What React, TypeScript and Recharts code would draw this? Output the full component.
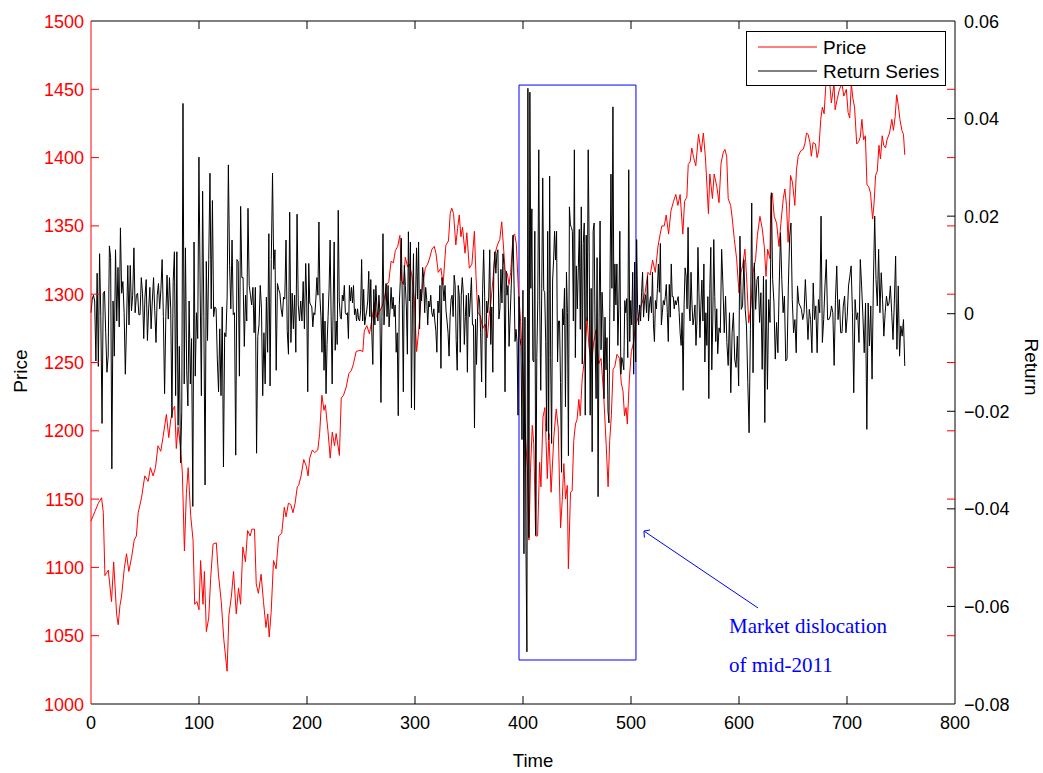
import React from 'react';
import { LineChart, Line, XAxis, YAxis, ReferenceArea, ReferenceLine } from 'recharts';

// price (time, price)
const priceTime = [
  0, 3.7, 6.8, 9.8, 11.4, 12.9, 16, 19, 21, 23.7, 25.2, 26.8, 28.3, 30.8, 32.9, 35, 37.5, 40, 42, 43.7,
  46.8, 49.8, 52.9, 55, 57.5, 59.7, 62, 64.6, 66.8, 69.8, 72, 73.8, 76, 77.5, 79, 80.6, 82.8, 84.6, 86.5, 88.3,
  90, 92.3, 94.5, 96, 98, 100, 101.5, 103.7, 105, 106.8, 109, 110.8, 113, 116, 118, 120.6, 123, 126, 127.7, 130,
  132, 134.5, 136.6, 138.5, 140.6, 143, 145, 147.4, 149, 151.4, 153, 155, 157.5, 159.7, 162, 163.7, 165, 166.8, 169, 171.4,
  173.8, 176.6, 179, 180.6, 182.8, 185, 187, 189, 191, 192.3, 194.5, 197,
  199.4, 201, 202.5, 205, 207, 210, 211.7, 213.8, 215.7, 217, 219.4, 221.5, 223.4, 225.5, 227, 230, 231.7, 233.8, 236.3, 238.8,
  241, 243, 245.5, 249, 251.7, 253, 255.4, 257.8, 260, 262.5, 264.6, 267, 269.5, 271.7, 273.8, 275.7, 277.8, 280, 281.8, 284,
  286, 287.7, 289.2, 291, 293.2, 294.8, 297, 299.4, 301.5, 303.4, 305.5, 307, 309.5, 311.7, 313.8, 315.7, 317.8, 319.4, 321.5, 324,
  326, 328.6, 331, 332.6, 334, 335.7, 337.8, 339.4, 341, 342.5, 344, 346.3, 348, 350.3, 352.7, 355, 356.5, 358, 360.6, 362.7,
  365, 367, 368.6, 370.2, 372.4, 374.2, 376.3, 378.5, 380.3,
  383.4, 385.5, 387, 388.6, 390.8, 392.3, 393.8, 395.7, 397.8, 400, 401.8, 404, 405.5, 407, 408.6, 410, 411.7, 413.5, 415.4, 416.6,
  418.5, 420.3, 422.5, 424, 426, 428.6, 430.8, 432.6, 434.8, 436.3, 437.8, 439.4, 441, 442, 444, 445.5, 447, 448.6, 450, 451.7,
  453, 454.8, 457, 459.4, 461, 463.4, 465.5, 467.7, 470, 472.3, 474.8, 477, 478.8, 480.3, 481.8, 483.4, 485, 487, 489.4, 491,
  492.6, 494, 495.4, 496.6, 498.5, 500.3, 502.5, 504, 506.6, 508.6, 510.8, 513, 515.7, 517.8, 520, 522.5, 525, 527, 528.6, 530.8,
  532.6, 534.8, 537, 539.4, 541.5, 543.4, 545.5, 548, 549.6, 551.7, 553, 554.8, 556.3, 558, 560,
  562.5, 565, 567, 569, 571.7, 573, 575.4, 577, 579.4, 581.5, 583.4, 585.5, 587, 588.6, 590, 592.3, 593.8, 595.7, 597.8, 600,
  601.8, 603.4, 605.5, 607, 609, 611, 613, 615.4, 617, 619.4, 621.5, 623.4, 625, 626.5, 628.6, 629.5, 630.8, 632.6, 634.8, 637,
  638.8, 641, 642.5, 644, 645.5, 647.7, 649.5, 651.7, 653.2, 654.8, 657.2, 659.4, 661, 662.5, 664, 665.7, 667, 668.6, 670.8, 672.3,
  673.8, 675.7, 677.2, 678.8, 680.3, 681.8, 684, 685.5, 688, 689, 691, 693, 695.4, 697, 699.4, 701, 702.5, 704, 705.5, 707,
  709, 711, 712.3, 713.8, 715.4, 717, 718.5, 720, 721.8, 723.7, 725, 726.5, 728, 729.6, 731, 732.6, 734, 735.7, 737, 739.4,
  741.5, 743, 744.6, 746, 747.7, 749, 750.8, 752.3, 753.5,
];

const priceValue = [
  1134, 1141, 1147, 1151, 1140, 1094, 1098, 1075, 1104, 1066, 1058, 1072, 1079, 1099, 1110, 1097, 1107, 1120, 1123, 1140,
  1151, 1167, 1163, 1173, 1167, 1173, 1189, 1185, 1196, 1212, 1195, 1208, 1216, 1218, 1187, 1203, 1189, 1169, 1112, 1154,
  1173, 1138, 1120, 1073, 1075, 1069, 1105, 1073, 1097, 1053, 1063, 1092, 1117, 1118, 1095, 1075, 1047, 1024, 1065, 1079,
  1097, 1066, 1085, 1073, 1115, 1104, 1127, 1123, 1128, 1128, 1088, 1081, 1095, 1075, 1056, 1066, 1049, 1067, 1105, 1099,
  1123, 1125, 1144, 1137, 1147, 1146, 1140, 1147, 1159, 1160, 1167, 1179,
  1174, 1167, 1180, 1186, 1184, 1186, 1198, 1226, 1215, 1219, 1200, 1180, 1199, 1189, 1198, 1182, 1224, 1226, 1232, 1242,
  1244, 1249, 1258, 1259, 1258, 1273, 1277, 1271, 1281, 1294, 1283, 1287, 1291, 1297, 1307, 1309, 1324, 1323, 1332, 1335,
  1343, 1310, 1307, 1327, 1320, 1322, 1314, 1296, 1258, 1273, 1296, 1306, 1319, 1322, 1327, 1333, 1335, 1330, 1316, 1319,
  1307, 1336, 1339, 1359, 1363, 1359, 1336, 1348, 1358, 1342, 1349, 1330, 1345, 1319, 1322, 1346, 1313, 1287, 1284, 1275,
  1278, 1268, 1284, 1293, 1313, 1330, 1336, 1340, 1353,
  1318, 1315, 1307, 1316, 1343, 1344, 1337, 1304, 1280, 1245, 1202, 1173, 1120, 1173, 1204, 1190, 1123, 1123, 1177, 1159,
  1210, 1217, 1165, 1198, 1155, 1196, 1216, 1202, 1129, 1149, 1176, 1150, 1160, 1099, 1155, 1156, 1193, 1205, 1208, 1223,
  1211, 1238, 1253, 1283, 1262, 1250, 1265, 1274, 1249, 1253, 1225, 1190, 1159, 1193, 1211, 1245, 1247, 1256, 1253, 1235,
  1229, 1211, 1217, 1205, 1238, 1258, 1265, 1277, 1283, 1290, 1295, 1301, 1316, 1314, 1325, 1316, 1335, 1344, 1350, 1350,
  1358, 1344, 1361, 1368, 1373, 1365, 1373, 1344, 1368, 1371, 1395, 1397, 1407, 1400, 1394,
  1417, 1404, 1418, 1399, 1359, 1388, 1370, 1388, 1379, 1367, 1396, 1404, 1406, 1401, 1370, 1365, 1355, 1340, 1326, 1301,
  1316, 1321, 1333, 1313, 1279, 1291, 1316, 1326, 1343, 1357, 1348, 1335, 1313, 1333, 1326, 1372, 1374, 1357, 1352, 1335,
  1352, 1370, 1377, 1365, 1338, 1387, 1382, 1365, 1391, 1401, 1405, 1406, 1410, 1418, 1417, 1411, 1401, 1411, 1410, 1400,
  1405, 1428, 1437, 1432, 1452, 1465, 1455, 1440, 1454, 1435, 1443, 1450, 1454, 1445, 1450, 1433, 1429, 1454, 1443, 1437,
  1410, 1412, 1415, 1428, 1413, 1416, 1380, 1379, 1374, 1355, 1366, 1387, 1390, 1409, 1399, 1416, 1409, 1407, 1413, 1418,
  1428, 1420, 1430, 1446, 1437, 1428, 1420, 1417, 1402,
];

const returnSpans = [[0, 197.6], [198.8, 387.1], [390.8, 580.3], [581.5, 753.5]];

const returnsA = [
  0.0002, 0.003, 0.0038, 0.0026, -0.0097, 0.0083, -0.0108, 0.0123, -0.0006, -0.0225,
  0.0042, 0.0046, -0.0039, -0.012, -0.0087, 0.0139, 0.0115, -0.0318, 0.0026, -0.0087,
  0.0131, -0.0015, 0.0095, -0.0027, 0.0176, 0.0042, 0.0066, 0.0002, -0.0124, -0.0019,
  0.0099, -0.0023, 0.0099, 0.0006, 0.0038, 0.0135, 0.0002, 0.0038, 0.0042, -0.0002,
  -0.0002, 0.0074, 0.0042, -0.0051, 0.0034, 0.007, -0.0055, 0.001, 0.0054, -0.0031,
  0.0026, 0.0074, 0.0006, -0.0059, 0.0038, 0.0062, 0.001, 0.005, 0.0111, -0.0006,
  -0.0164, -0.0006, 0.0079, -0.0011, 0.0074, 0.001, -0.0213, 0.0066, 0.0127, -0.0168,
  0.0127, -0.0229, -0.0067, -0.0306, -0.0201, 0.0431, -0.0144, 0.0135, -0.0116, -0.0189,
  0.0026, -0.0144, -0.0051, -0.0395, 0.0147, -0.0128, 0.0002, -0.0051, 0.0321, 0.005,
  -0.0168, 0.0251, -0.0006, -0.0351, 0.0107, -0.0055, 0.0111, 0.0288, 0.001, 0.0232,
  -0.0006, 0.0014, 0.001, -0.0093, -0.016, -0.0031, -0.0168, 0.0014, -0.0314, -0.0039,
  -0.0047, 0.0034, 0.0305, 0.0099, 0.001, 0.0151, -0.0002, 0.0002, -0.029, 0.0111,
  0.0107, -0.0128, 0.022, 0.0074, 0.0074, -0.0067, 0.0038, -0.0015, 0.0216, 0.0058,
  0.0038, 0.0018, 0.0054, -0.0039, 0.0054, -0.0286, -0.0047, -0.0023, 0.0058, 0.001,
  -0.0168, -0.0039, -0.0144, 0.0034, -0.0079, 0.0164, -0.0148, 0.0111, 0.0288, 0.0091,
  0.0131, -0.0116, 0.0062, 0.005, 0.0042, 0.001, -0.0006, 0.0034, 0.003, 0.0151,
  -0.0035, -0.0083, 0.0208, -0.0059, 0.0042, -0.0031, 0.0038, -0.0079, 0.0204, 0.0018,
  -0.0015, 0.0026, -0.0015, 0.0066, -0.0031,
];

const returnsB = [
  0.0103, 0.0026, -0.016, 0.0103, 0.0022, 0.0018, 0.0014, -0.0027, 0.0002, -0.0002,
  0.003, 0.0074, 0.0038, 0.0188, 0.0034, -0.0006, -0.0079, 0.0042, -0.0116, -0.0015,
  -0.0164, -0.0063, -0.0006, 0.005, 0.0151, -0.0006, -0.0144, 0.0018, 0.0147, -0.0075,
  -0.0015, -0.0063, 0.0212, 0.0026, -0.0006, -0.0011, 0.0038, 0.0026, 0.0058, 0.0002,
  -0.0002, 0.0002, -0.0051, 0.0058, 0.0026, 0.0054, 0.0022, 0.0058, -0.0002, 0.001,
  -0.0015, 0.001, -0.0011, -0.0015, 0.0006, 0.0111, -0.0015, 0.005, -0.0023, -0.0006,
  0.0006, 0.0026, 0.0087, -0.0006, 0.007, -0.0039, -0.0104, 0.005, -0.0023, 0.0058,
  0.0014, -0.0015, 0.0038, 0.0002, -0.0182, -0.0006, 0.0164, -0.0023, 0.0026, 0.0062,
  -0.0006, 0.0058, -0.0027, 0.001, 0.0054, 0.001, 0.0034, -0.0006, 0.0018, -0.0079,
  -0.0039, -0.0209, 0.0018, 0.0066, 0.0155, 0.0026, -0.016, 0.0099, 0.0058, 0.0014,
  -0.0083, 0.0168, 0.0026, 0.0147, -0.0193, 0.0018, 0.0123, -0.0197, 0.0026, 0.0135,
  0.003, 0.0147, -0.0031, 0.005, 0.0026, 0.0095, 0.0074, 0.0002, 0.0054, 0.003,
  -0.0023, 0.0026, 0.0014, 0.0038, 0.0002, -0.0006, 0.001, -0.0015, -0.0035, -0.0079,
  0.0026, 0.0002, 0.0058, -0.0112, 0.0074, 0.0058, 0.0026, 0.0058, 0.0006, -0.0015,
  -0.0039, -0.0087, -0.0006, 0.003, 0.0038, -0.0006, 0.0079, 0.0058, -0.0055, -0.0116,
  0.0058, 0.0038, -0.0079, 0.0038, 0.0074, 0.0042, -0.0063, -0.0006, 0.0038, -0.012,
  0.0042, -0.0006, 0.0034, 0.0074, -0.0023, -0.0023, -0.0234, -0.0011, -0.0104, -0.0006,
  0.0038, 0.0026, -0.0039, -0.014, 0.005, 0.0131, 0.0034, -0.0172, 0.0026, 0.0002,
  0.0034, 0.0131, -0.0063, 0.0014, -0.012, 0.0091, 0.0127, 0.0083, 0.0123, 0.0131,
  -0.0011, 0.001, 0.0091, 0.0022, 0.0123, 0.0099, -0.016, 0.0087, 0.0038, 0.0058,
  -0.0067,
];

const returnsC = [
  0.0161, 0.006, -0.0057, -0.0032, -0.0057, -0.0208, 0.0035, -0.0049, -0.0067, -0.0258,
  0.0048, -0.0492, -0.0007, -0.0467, -0.0693, 0.0462, -0.0459, 0.0454, 0.0052, 0.0215,
  -0.0095, -0.0099, 0.0169, -0.0454, -0.009, 0.0027, 0.0336, 0.0018, -0.0157, 0.0052,
  0.0278, 0.0048, 0.0044, -0.0057, -0.0241, 0.0169, -0.0258, 0.0282, -0.009, -0.0266,
  0.0069, 0.011, 0.0169, 0.011, 0.0169, -0.0099, -0.0015, -0.0015, -0.0141, -0.0325,
  0.001, -0.0023, 0.0052, -0.0191, 0.0085, 0.0002, -0.0291, 0.0219, 0.0182, 0.0177,
  0.0169, -0.0015, 0.0336, -0.009, 0.0098, 0.001, 0.0094, 0.0173, -0.0032, 0.0219,
  -0.0103, 0.0144, 0.0186, -0.0208, 0.0161, -0.0015, 0.0336, 0.0127, -0.0208, 0.0052,
  -0.0283, 0.0169, 0.0186, -0.0057, -0.0174, 0.0115, -0.0375, -0.0007, 0.019, -0.0074,
  0.0044, -0.0015, -0.0174, -0.0007, -0.0115, -0.0049, -0.0199, -0.0224, 0.0052, 0.0286,
  0.0052, 0.0424, -0.0015, 0.0102, 0.0018, 0.0102, -0.0065, 0.0018, 0.0169, -0.0124,
  -0.009, -0.0099, -0.0115, 0.0027, 0.0002, 0.0031, -0.009, 0.0295, -0.0057, 0.0027,
  -0.0023, 0.0085, -0.0124, 0.0106, -0.0099, 0.0152, 0.001, -0.0023, 0.0018, -0.0015,
  0.0044, 0.0085, -0.0007, 0.0027, 0.0039, 0.0002, 0.0077, -0.0015, 0.0018, 0.0035,
  0.0002, 0.0085, -0.0023, -0.0057, 0.0027, 0.001, 0.0052, 0.0102, 0.0044, 0.0144,
  -0.0023, 0.0002, 0.0027, 0.0018, 0.0035, 0.006, 0.0002, -0.0057, 0.006, -0.0007,
  0.0102, 0.0035, 0.0035, 0.001, 0.0027, 0.0018, 0.0027, 0.0035, 0.0002, -0.004,
  -0.0065, 0.0002, -0.0157, 0.0018, 0.0094, 0.0077, 0.001, 0.0177, 0.0018, -0.0015,
  0.0085, 0.0018, -0.0023, -0.0007, 0.0018, -0.0065, -0.0015, 0.0136, 0.0044, -0.0049,
  0.0018, 0.0069, -0.0015, 0.0102, -0.0099, 0.0002, -0.0065, 0.0035, -0.0174, 0.0052,
  0.0136, -0.0115, -0.0015, 0.0152, 0.0035, -0.0057, 0.001, -0.0082,
];

const returnsD = [
  -0.0029, -0.0039, 0.0132, 0.0057, -0.0039, 0.0036, -0.0059, -0.0106, 0.0002, -0.0162,
  -0.0039, 0.0002, -0.0093, -0.011, -0.0046, -0.0148, 0.0159, 0.0009, 0.0016, 0.0111,
  0.0009, -0.0025, -0.0141, -0.0244, -0.0032, 0.0227, -0.0121, 0.0104, 0.0009, 0.007,
  0.0077, -0.0018, 0.0043, -0.0114, 0.0077, -0.0223, 0.007, -0.0155, 0.0029, -0.0018,
  0.0248, 0.007, 0.0022, -0.0093, -0.0018, -0.008, 0.0057, 0.0166, 0.007, 0.0002,
  0.0036, -0.0097, -0.0093, 0.0057, 0.0159, 0.0186, 0.0029, -0.0039, -0.0012, -0.008,
  0.0057, 0.0022, 0.0016, 0.0009, -0.0012, 0.0002, 0.007, 0.0009, -0.0053, 0.0009,
  -0.0012, -0.008, 0.0063, -0.0012, 0.0016, -0.008, 0.0029, 0.0002, 0.02, -0.0059,
  -0.0012, 0.0057, 0.0111, -0.0012, -0.0012, -0.0005, 0.0016, 0.0002, -0.0106, 0.0029,
  0.0098, -0.0012, 0.0029, -0.0039, -0.0039, 0.0016, 0.0036, -0.0039, -0.0005, 0.0057,
  0.0077, 0.0098, 0.0002, -0.0162, 0.0029, -0.0012, 0.0002, -0.0059, 0.0111, 0.0057,
  -0.0005, -0.008, 0.0022, -0.0237, 0.0022, -0.0066, 0.0016, -0.0134, 0.0063, 0.02,
  0.007, 0.0016, 0.0132, 0.0002, 0.0084, 0.0029, -0.0046, 0.0002, 0.0036, 0.0016,
  0.0022, 0.0057, 0.0002, -0.0053, 0.0022, 0.0118, -0.0073, 0.0057, -0.0087, -0.0025,
  -0.0046, -0.0012, -0.0107,
];

const timeTicks = [0, 100, 200, 300, 400, 500, 600, 700, 800];
const priceTicks = [1000, 1050, 1100, 1150, 1200, 1250, 1300, 1350, 1400, 1450, 1500];
const returnTicks = [-0.08, -0.06, -0.04, -0.02, 0, 0.02, 0.04, 0.06];

const priceData = priceTime.map((t, i) => ({ t, price: priceValue[i] }));
const returnData = [returnsA, returnsB, returnsC, returnsD].flatMap((vals, s) => {
  const [t0, t1] = returnSpans[s];
  const step = (t1 - t0) / (vals.length - 1);
  return vals.map((r, i) => ({ t: t0 + i * step, ret: r }));
});

const SANS = '"Liberation Sans", Arial, Helvetica, sans-serif';
const SERIF = '"Liberation Serif", "Times New Roman", serif';
const RED = '#ff0000';
const BLUE = '#0000ff';

// plot box edges
const L = 91;
const R = 955;
const T = 21;
const B = 704;

const XTick = (props: any) => {
  const { x, payload } = props;
  const v = payload.value;
  const inner = v > 0 && v < 800;
  return (
    <g>
      {inner && <line x1={x} x2={x} y1={B} y2={B - 8} stroke="#000" />}
      {inner && <line x1={x} x2={x} y1={T} y2={T + 8} stroke="#000" />}
      <text x={x} y={729} textAnchor="middle" fontSize={18} fontFamily={SANS} fill="#000">{v}</text>
    </g>
  );
};

const LeftTick = (props: any) => {
  const { y, payload } = props;
  const v = payload.value;
  const inner = v > 1000 && v < 1500;
  return (
    <g>
      {inner && <line x1={L} x2={L + 8} y1={y} y2={y} stroke={RED} />}
      {inner && <line x1={R} x2={R - 8} y1={y} y2={y} stroke={RED} />}
      <text x={84} y={y + 6.5} textAnchor="end" fontSize={18} fontFamily={SANS} fill={RED}>{v}</text>
    </g>
  );
};

const fmtReturn = (v: number) => {
  if (Math.abs(v) < 1e-9) return '0';
  const s = Math.abs(v).toFixed(2);
  return v < 0 ? '\u2212' + s : s;
};

const RightTick = (props: any) => {
  const { y, payload } = props;
  const v = payload.value;
  const inner = v > -0.079 && v < 0.059;
  return (
    <g>
      {inner && <line x1={R} x2={R - 8} y1={y} y2={y} stroke="#000" />}
      <text x={964} y={y + 6.5} textAnchor="start" fontSize={18} fontFamily={SANS} fill="#000">{fmtReturn(v)}</text>
    </g>
  );
};

export default function App() {
  return (
    <div style={{ position: 'absolute', left: 0, top: 0, width: 1043, height: 773, background: '#fff' }}>
      <LineChart width={1043} height={773} margin={{ top: T, right: 0, bottom: 0, left: 0 }}>
        <XAxis
          dataKey="t"
          type="number"
          domain={[0, 800]}
          ticks={timeTicks}
          interval={0}
          height={69}
          tickLine={false}
          axisLine={{ stroke: '#000' }}
          tick={<XTick />}
        />
        <YAxis
          yAxisId="left"
          domain={[1000, 1500]}
          ticks={priceTicks}
          interval={0}
          width={L}
          tickLine={false}
          axisLine={{ stroke: RED }}
          tick={<LeftTick />}
        />
        <YAxis
          yAxisId="right"
          orientation="right"
          domain={[-0.08, 0.06]}
          ticks={returnTicks}
          interval={0}
          width={1043 - R}
          tickLine={false}
          axisLine={{ stroke: '#000' }}
          tick={<RightTick />}
        />
        <ReferenceLine yAxisId="left" y={1500} stroke="#000" />
        <Line
          yAxisId="left"
          data={priceData}
          dataKey="price"
          type="linear"
          stroke={RED}
          strokeWidth={1}
          dot={false}
          isAnimationActive={false}
        />
        <Line
          yAxisId="right"
          data={returnData}
          dataKey="ret"
          type="linear"
          stroke="#000"
          strokeWidth={1}
          dot={false}
          isAnimationActive={false}
        />
        <ReferenceArea
          yAxisId="left"
          x1={396.3}
          x2={504.6}
          y1={1032.2}
          y2={1453.1}
          fill="none"
          fillOpacity={0}
          stroke={BLUE}
          strokeWidth={1}
        />
        <ReferenceLine yAxisId="left" segment={[{ x: 617.6, y: 1070.3 }, { x: 512, y: 1126.6 }]} stroke={BLUE} />
        <ReferenceLine yAxisId="left" segment={[{ x: 512, y: 1126.6 }, { x: 517.6, y: 1127.4 }]} stroke={BLUE} />
        <ReferenceLine yAxisId="left" segment={[{ x: 512, y: 1126.6 }, { x: 512.4, y: 1121.8 }]} stroke={BLUE} />
      </LineChart>
      <svg width={1043} height={773} style={{ position: 'absolute', left: 0, top: 0, pointerEvents: 'none' }}>
        <text transform="translate(20,371) rotate(-90)" textAnchor="middle" dominantBaseline="central" fontSize={19} fontFamily={SANS} fill="#000">Price</text>
        <text transform="translate(1031,367) rotate(90)" textAnchor="middle" dominantBaseline="central" fontSize={19} fontFamily={SANS} fill="#000">Return</text>
        <text x={533} y={767} textAnchor="middle" fontSize={18.5} fontFamily={SANS} fill="#000">Time</text>
        <rect x={746.5} y={31.5} width={199} height={54} fill="#fff" stroke="#000" />
        <line x1={758} x2={817} y1={47} y2={47} stroke={RED} />
        <text x={823} y={53.5} fontSize={19} fontFamily={SANS} fill="#000">Price</text>
        <line x1={758} x2={817} y1={71} y2={71} stroke="#000" />
        <text x={823} y={78} fontSize={19} fontFamily={SANS} fill="#000">Return Series</text>
        <text x={729} y={633} fontSize={21} fontFamily={SERIF} fill={BLUE}>Market dislocation</text>
        <text x={729} y={672} fontSize={21} fontFamily={SERIF} fill={BLUE}>of mid-2011</text>
      </svg>
    </div>
  );
}
